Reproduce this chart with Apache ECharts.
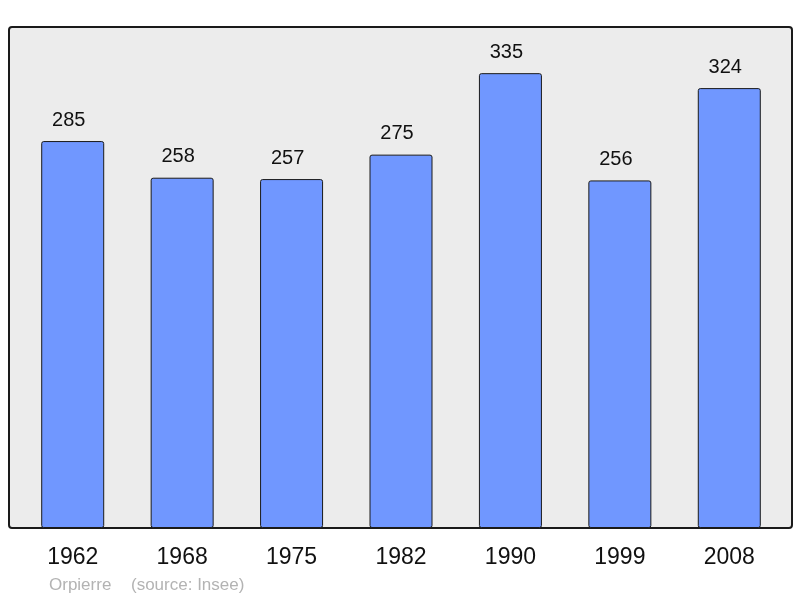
<!DOCTYPE html>
<html>
<head>
<meta charset="utf-8">
<script src="https://cdn.jsdelivr.net/npm/echarts@6/dist/echarts.min.js"></script>
<style>html,body{margin:0;padding:0;background:#fff}#c{width:800px;height:598px}</style>
</head>
<body>
<div id="c"></div>
<script>
const years = ['1962', '1968', '1975', '1982', '1990', '1999', '2008'];
const population = [285, 258, 257, 275, 335, 256, 324];
const footerName = 'Orpierre';
const footerSource = '(source: Insee)';

const FONT = 'Liberation Sans, Arial, sans-serif';
const chart = echarts.init(document.getElementById('c'), null, {renderer: 'canvas'});
chart.setOption({
  animation: false,
  backgroundColor: '#ffffff',
  graphic: [
    {type: 'rect', z: -10, shape: {x: 9, y: 27, width: 783, height: 501, r: 3},
     style: {fill: '#ececec', stroke: '#1a1a1a', lineWidth: 2}},
    {type: 'text', left: 49, top: 577,
     style: {text: footerName, fill: '#b3b3b3', fontSize: 17, fontFamily: FONT}},
    {type: 'text', left: 131, top: 577,
     style: {text: footerSource, fill: '#b3b3b3', fontSize: 17, fontFamily: FONT}}
  ],
  grid: {left: 18, right: 16, top: 27, bottom: 70},
  xAxis: {
    type: 'category', data: years,
    axisLine: {show: false}, axisTick: {show: false},
    axisLabel: {fontSize: 23, color: '#111', margin: 18, fontFamily: FONT}
  },
  yAxis: {type: 'value', min: 0, max: 369, show: false, splitLine: {show: false}},
  series: [{
    type: 'bar', data: population, barWidth: 63,
    itemStyle: {color: '#7097ff', borderColor: '#1a1a1a', borderWidth: 1, borderRadius: 2},
    label: {show: true, position: 'top', distance: 11, offset: [-4, 0], fontSize: 20, color: '#111',
            fontFamily: FONT}
  }]
});
</script>
</body>
</html>
